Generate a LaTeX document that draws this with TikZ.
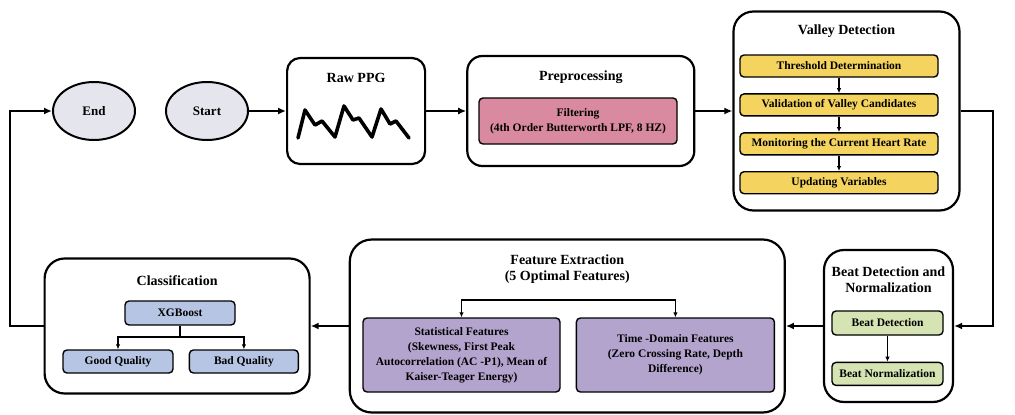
\documentclass[tikz,border=0pt]{standalone}
\usepackage{fontspec}
\setmainfont{Liberation Serif}
\usetikzlibrary{shapes.geometric,arrows.meta,positioning}
\definecolor{termfill}{HTML}{E5E5EE}
\definecolor{filtfill}{HTML}{D98AA0}
\definecolor{valfill}{HTML}{F4D35F}
\definecolor{beatfill}{HTML}{D6E3B3}
\definecolor{featfill}{HTML}{B3A4CE}
\definecolor{clsfill}{HTML}{B5C5E3}

\begin{document}
\begin{tikzpicture}[x=1pt,y=-1pt,
 term/.style={ellipse,draw,line width=2pt,fill=termfill,minimum width=82pt,minimum height=58pt,
   font=\bfseries\fontsize{13}{15}\selectfont},
 stage/.style={rectangle,draw,line width=2.2pt,rounded corners=15pt,fill=white},
 ttl/.style={inner sep=0pt,align=center,font=\bfseries\fontsize{14}{16}\selectfont},
 inbox/.style={rectangle,draw,line width=1.4pt,rounded corners=4pt,align=center,inner sep=2pt,
   font=\bfseries\fontsize{11.5}{15}\selectfont},
 ar/.style={draw,-{Latex[length=8pt,width=7pt]},line width=2pt},
 arin/.style={draw,-{Latex[length=5pt,width=4.5pt]},line width=1.3pt}]
\useasboundingbox (0,0) rectangle (1015,415);
% top row
\node [term] (start) at (207,111) {Start};
\node [term,left=29pt of start] (end) {End};
\node [stage,right=37pt of start,minimum width=138pt,minimum height=106pt,rounded corners=13pt] (raw) {};
\node [stage,right=40pt of raw,minimum width=227pt,minimum height=110pt] (prep) {};
\node [stage,right=37pt of prep,minimum width=226pt,minimum height=199pt,rounded corners=20pt] (valley) {};
% bottom row
\node [stage,minimum width=129pt,minimum height=152pt,rounded corners=20pt] (beat) at (888.5,326) {};
\node [stage,left=37pt of beat,minimum width=435pt,minimum height=173pt,rounded corners=22pt] (feat) {};
\node [stage,left=38pt of feat,minimum width=265pt,minimum height=135pt,rounded corners=20pt] (cls) {};
% titles
\node [ttl] (rawT) at ([yshift=-21pt]raw.north) {Raw PPG};
\node [ttl] (prepT) at ([yshift=-22pt]prep.north) {Preprocessing};
\node [ttl] (valleyT) at ([yshift=-21pt]valley.north) {Valley Detection};
\node [ttl] (beatT) at ([yshift=-31pt]beat.north) {Beat Detection and\\Normalization};
\node [ttl] (featT) at ([yshift=-31pt]feat.north) {Feature Extraction\\(5 Optimal Features)};
\node [ttl] (clsT) at ([yshift=-23pt]cls.north) {Classification};
% raw signal
\draw [line width=3.6pt,line join=round,line cap=round] plot coordinates {(298,138) (305,110) (315,125)
  (322,121) (335,137) (344,106) (353,120) (359,118) (372,137) (381,109) (390,124) (396,121) (409,138)};
% inner boxes
\node [inbox,fill=filtfill,minimum width=198pt,minimum height=46pt] (filt) at (578,121)
  {Filtering\\(4th Order Butterworth LPF, 8 HZ)};
\node [inbox,fill=valfill,minimum width=198pt,minimum height=22pt] (v1) at (839,66) {Threshold Determination};
\node [inbox,fill=valfill,minimum width=198pt,minimum height=22pt,below=15.5pt of v1] (v2) {Validation of Valley Candidates};
\node [inbox,fill=valfill,minimum width=198pt,minimum height=22pt,below=15.5pt of v2] (v3) {Monitoring the Current Heart Rate};
\node [inbox,fill=valfill,minimum width=198pt,minimum height=22pt,below=15.5pt of v3] (v4) {Updating Variables};
\node [inbox,fill=beatfill,minimum width=111pt,minimum height=24pt] (bd) at (887.5,323) {Beat Detection};
\node [inbox,fill=beatfill,minimum width=111pt,minimum height=23pt,below=26pt of bd] (bn) {Beat Normalization};
\node [inbox,fill=featfill,minimum width=197pt,minimum height=74pt] (stat) at (461.5,355)
  {Statistical Features\\(Skewness, First Peak\\Autocorrelation (AC -P1), Mean of\\Kaiser-Teager Energy)};
\node [inbox,fill=featfill,minimum width=198pt,minimum height=74pt,right=15pt of stat] (time)
  {Time -Domain Features\\(Zero Crossing Rate, Depth\\Difference)};
\node [inbox,fill=clsfill,minimum width=110pt,minimum height=24pt] (xgb) at (180,313) {XGBoost};
\node [inbox,fill=clsfill,minimum width=110pt,minimum height=23pt] (good) at (118,361.5) {Good Quality};
\node [inbox,fill=clsfill,minimum width=109pt,minimum height=23pt,right=15pt of good] (bad) {Bad Quality};
% main flow
\path [ar] (start) -- (raw);
\path [ar] (raw) -- (prep);
\path [ar] (prep) -- (valley);
\coordinate (rt) at (993,111);
\coordinate (lt) at (10,111);
\path [ar] (valley.east) -- (rt) |- (beat.east);
\path [ar] (beat) -- (feat);
\path [ar] (feat) -- (cls);
\path [ar] (cls.west) -| (lt) -- (end.west);
% inner flow
\path [arin] (v1) -- (v2);
\path [arin] (v2) -- (v3);
\path [arin] (v3) -- (v4);
\path [arin] (bd) -- (bn);
\coordinate (fsplit) at (567.5,300);
\path [arin] (fsplit) -| (stat.north);
\path [arin] (fsplit) -| (time.north);
\coordinate (csplit) at (180,337);
\draw [line width=1.3pt] (xgb.south) -- (csplit);
\path [arin] (csplit) -| (good.north);
\path [arin] (csplit) -| (bad.north);
\end{tikzpicture}
\end{document}
